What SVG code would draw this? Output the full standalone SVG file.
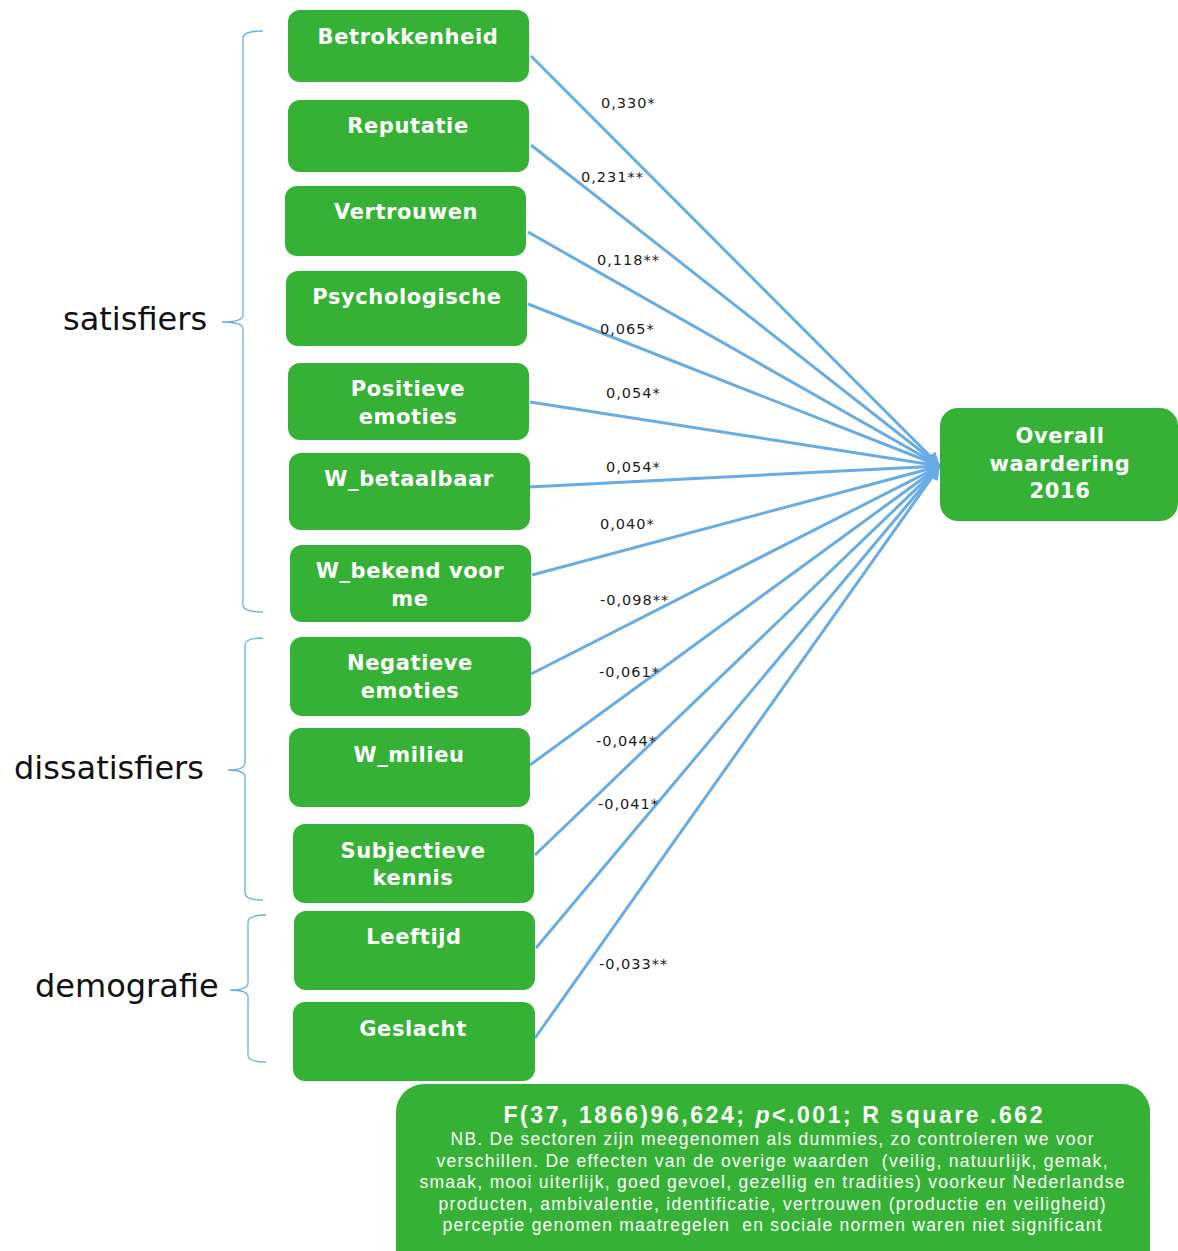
<svg xmlns="http://www.w3.org/2000/svg" width="1178" height="1251" viewBox="0 0 1178 1251">
<style>
.node rect{fill:#35b236;}
.nl{font-family:"DejaVu Sans",Verdana,sans-serif;font-weight:bold;font-size:21px;fill:#ffffff;text-anchor:middle;letter-spacing:0.6px;}
.el{font-family:"DejaVu Sans",Verdana,sans-serif;font-size:14.5px;fill:#1a1a1a;letter-spacing:1px;}
.conn line{stroke:#68ace5;stroke-width:3;fill:none;}
.br{stroke:#6aaee6;stroke-width:1.3;fill:none;}
.gl{font-family:"DejaVu Sans",Verdana,sans-serif;font-size:32px;fill:#111111;}
.nb{font-family:"Liberation Sans",Arial,sans-serif;font-size:17.5px;fill:#ffffff;text-anchor:middle;}
.nbt{font-family:"Liberation Sans",Arial,sans-serif;font-size:23px;font-weight:bold;fill:#ffffff;text-anchor:middle;}
</style>
<defs>
<marker id="arr" viewBox="0 0 10 10" refX="10" refY="5" markerWidth="4.5" markerHeight="4.5" orient="auto" markerUnits="strokeWidth">
<path d="M0,0 L10,5 L0,10 z" fill="#68ace5"/>
</marker>
</defs>

<g id="brackets">
<path class="br" d="M263,31 Q243,31 243,38 L243,315 Q243,322 222,322 Q243,322 243,329 L243,605 Q243,612 263,612"/>
<path class="br" d="M263,638 Q245,638 245,645 L245,763 Q245,770 228,770 Q245,770 245,777 L245,893 Q245,900 263,900"/>
<path class="br" d="M266,915 Q248,915 248,922 L248,983 Q248,990 230,990 Q248,990 248,997 L248,1055 Q248,1062 266,1062"/>
<text class="gl" x="63" y="330">satisfiers</text>
<text class="gl" x="14" y="779">dissatisfiers</text>
<text class="gl" x="35" y="997">demografie</text>
</g>

<g id="connectors" class="conn">
<line x1="531" y1="56" x2="940" y2="466" marker-end="url(#arr)"/>
<line x1="531" y1="145" x2="940" y2="466" marker-end="url(#arr)"/>
<line x1="528" y1="232" x2="940" y2="466" marker-end="url(#arr)"/>
<line x1="528" y1="304" x2="940" y2="466" marker-end="url(#arr)"/>
<line x1="530" y1="402" x2="940" y2="466" marker-end="url(#arr)"/>
<line x1="529" y1="487" x2="940" y2="466" marker-end="url(#arr)"/>
<line x1="532" y1="575" x2="940" y2="466" marker-end="url(#arr)"/>
<line x1="531" y1="674" x2="940" y2="466" marker-end="url(#arr)"/>
<line x1="530" y1="765" x2="940" y2="466" marker-end="url(#arr)"/>
<line x1="535" y1="855" x2="940" y2="466" marker-end="url(#arr)"/>
<line x1="536" y1="948" x2="940" y2="466" marker-end="url(#arr)"/>
<line x1="535" y1="1038" x2="940" y2="466" marker-end="url(#arr)"/>
</g>

<g id="edge-labels">
<text class="el" x="601" y="108">0,330*</text>
<text class="el" x="581" y="182">0,231**</text>
<text class="el" x="597" y="265">0,118**</text>
<text class="el" x="600" y="334">0,065*</text>
<text class="el" x="606" y="398">0,054*</text>
<text class="el" x="606" y="472">0,054*</text>
<text class="el" x="600" y="529">0,040*</text>
<text class="el" x="600" y="605">-0,098**</text>
<text class="el" x="599" y="677">-0,061*</text>
<text class="el" x="596" y="746">-0,044*</text>
<text class="el" x="598" y="809">-0,041*</text>
<text class="el" x="599" y="969">-0,033**</text>
</g>

<g id="n-betrokkenheid" class="node"><rect x="288" y="10" width="241" height="72" rx="12"/><text class="nl" x="408" y="44">Betrokkenheid</text></g>
<g id="n-reputatie" class="node"><rect x="288" y="100" width="241" height="72" rx="12"/><text class="nl" x="408" y="133">Reputatie</text></g>
<g id="n-vertrouwen" class="node"><rect x="285" y="186" width="241" height="70" rx="12"/><text class="nl" x="406" y="219">Vertrouwen</text></g>
<g id="n-psychologische" class="node"><rect x="286" y="271" width="241" height="75" rx="12"/><text class="nl" x="407" y="304">Psychologische</text></g>
<g id="n-positieve" class="node"><rect x="288" y="363" width="241" height="77" rx="12"/><text class="nl" x="408" y="396">Positieve</text><text class="nl" x="408" y="424">emoties</text></g>
<g id="n-betaalbaar" class="node"><rect x="289" y="453" width="241" height="77" rx="12"/><text class="nl" x="409" y="486">W_betaalbaar</text></g>
<g id="n-bekend" class="node"><rect x="290" y="545" width="241" height="77" rx="12"/><text class="nl" x="410" y="578">W_bekend voor</text><text class="nl" x="410" y="606">me</text></g>
<g id="n-negatieve" class="node"><rect x="290" y="637" width="241" height="79" rx="12"/><text class="nl" x="410" y="670">Negatieve</text><text class="nl" x="410" y="698">emoties</text></g>
<g id="n-milieu" class="node"><rect x="289" y="728" width="241" height="79" rx="12"/><text class="nl" x="409" y="762">W_milieu</text></g>
<g id="n-kennis" class="node"><rect x="293" y="824" width="241" height="79" rx="12"/><text class="nl" x="413" y="858">Subjectieve</text><text class="nl" x="413" y="885">kennis</text></g>
<g id="n-leeftijd" class="node"><rect x="294" y="911" width="241" height="79" rx="12"/><text class="nl" x="414" y="944">Leeftijd</text></g>
<g id="n-geslacht" class="node"><rect x="293" y="1002" width="242" height="79" rx="12"/><text class="nl" x="413" y="1036">Geslacht</text></g>

<g id="n-overall" class="node"><rect x="940" y="408" width="238" height="113" rx="18"/><text class="nl" x="1060" y="443">Overall</text><text class="nl" x="1060" y="471">waardering</text><text class="nl" x="1060" y="498">2016</text></g>

<g id="n-note" class="node"><rect x="396" y="1084" width="754" height="200" rx="28"/>
<text class="nbt" x="773" y="1123" textLength="539" lengthAdjust="spacing">F(37, 1866)96,624; <tspan font-style="italic">p</tspan>&lt;.001; R square .662</text>
<text class="nb" x="772" y="1145" textLength="643" lengthAdjust="spacing">NB. De sectoren zijn meegenomen als dummies, zo controleren we voor</text>
<text class="nb" x="772" y="1167" textLength="671" lengthAdjust="spacing" xml:space="preserve">verschillen. De effecten van de overige waarden  (veilig, natuurlijk, gemak,</text>
<text class="nb" x="772" y="1188" textLength="705" lengthAdjust="spacing">smaak, mooi uiterlijk, goed gevoel, gezellig en tradities) voorkeur Nederlandse</text>
<text class="nb" x="772" y="1210" textLength="667" lengthAdjust="spacing">producten, ambivalentie, identificatie, vertrouwen (productie en veiligheid)</text>
<text class="nb" x="772" y="1231" textLength="659" lengthAdjust="spacing" xml:space="preserve">perceptie genomen maatregelen  en sociale normen waren niet significant</text>
</g>
</svg>
